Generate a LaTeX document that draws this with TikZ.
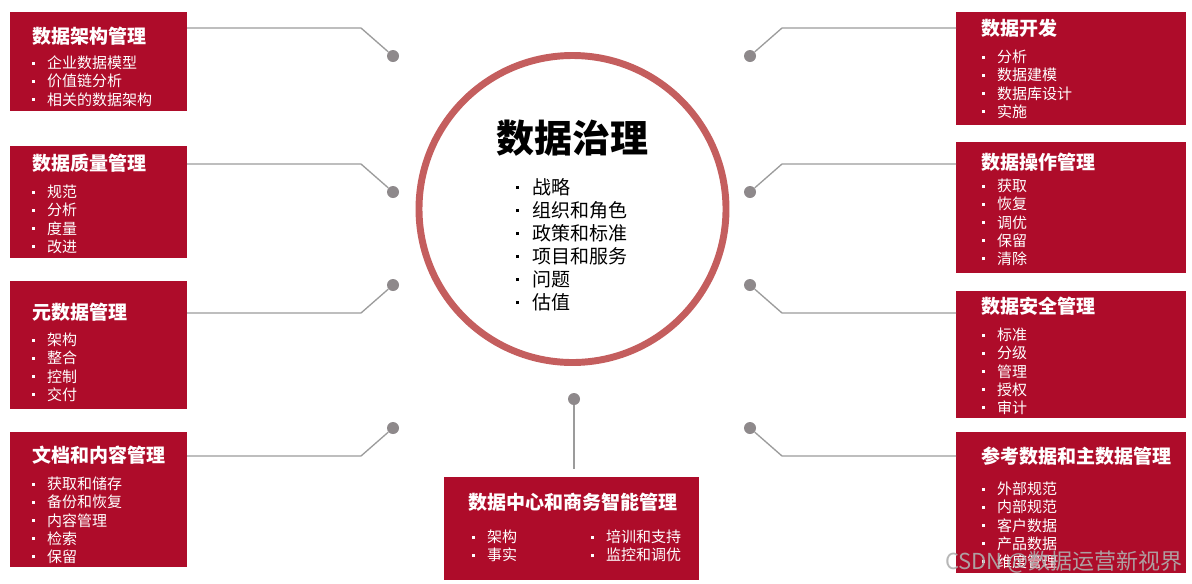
\documentclass[tikz,border=0pt]{standalone}
\usepackage{fontspec}
\setmainfont{Noto Sans CJK SC}
\definecolor{boxred}{RGB}{174,12,42}
\definecolor{ringred}{RGB}{196,94,94}
\definecolor{linkgray}{RGB}{155,155,155}
\definecolor{dotgray}{RGB}{142,137,139}
\definecolor{wmgray}{RGB}{175,175,175}
\newcommand{\bul}[2]{\makebox[#1][l]{\raisebox{#2}{\rule{2.3pt}{2.3pt}}}}
\newcommand{\itm}[1]{\bul{11.6pt}{3.1pt}#1}
\newcommand{\citm}[1]{\bul{12.4pt}{3.9pt}#1}
\newcommand{\redbox}[5]{\node[redbox, minimum width={(#4-#2)*0.75pt}, minimum height={(#5-#3)*0.75pt}] (#1) at (#2,#3) {};}
\begin{document}
\begin{tikzpicture}[x=0.75pt,y=-0.75pt,
  redbox/.style={fill=boxred, draw=none, inner sep=0pt, outer sep=0pt, anchor=north west},
  boxtitle/.style={anchor=base west, inner sep=0pt, text=white, font=\fontsize{14.25pt}{17pt}\selectfont\bfseries},
  boxlist/.style={anchor=base west, inner sep=0pt, text=white, align=left, font=\fontsize{11.25pt}{13.65pt}\selectfont},
  link/.style={draw=linkgray, line width=1pt},
  dotn/.style={circle, fill=dotgray, draw=none, inner sep=0pt, minimum size=9pt}]
\useasboundingbox (0,0) rectangle (1192,583);

% centre ring
\node[circle, draw=ringred, line width=5.2pt, minimum size=230.25pt, inner sep=0pt] (ring) at (572.5,209) {};
\node[anchor=base, inner sep=0pt, font=\fontsize{28.5pt}{32pt}\selectfont\bfseries] (ctitle) at (572,152.4) {数据治理};
\node[anchor=base west, inner sep=0pt, align=left, font=\fontsize{14.25pt}{17.25pt}\selectfont] (clist) at (516,{194.2+5*23})
 {\citm{战略}\\\citm{组织和角色}\\\citm{政策和标准}\\\citm{项目和服务}\\\citm{问题}\\\citm{估值}};

% left boxes
\redbox{b1}{10}{12}{187}{111}
\node[boxtitle] (t1) at (32,43.2) {数据架构管理};
\node[boxlist] (l1) at (31.5,{68.7+2*18.2}) {\itm{企业数据模型}\\\itm{价值链分析}\\\itm{相关的数据架构}};
\coordinate (e1) at (361,28);
\node[dotn] (d1) at (393,56) {};
\draw[link] (e1 -| b1.east) -- (e1) -- (d1);

\redbox{b2}{10}{146}{187}{258}
\node[boxtitle] (t2) at (32,170.2) {数据质量管理};
\node[boxlist] (l2) at (31.5,{197.7+3*18.2}) {\itm{规范}\\\itm{分析}\\\itm{度量}\\\itm{改进}};
\coordinate (e2) at (361,164);
\node[dotn] (d2) at (393,192) {};
\draw[link] (e2 -| b2.east) -- (e2) -- (d2);

\redbox{b3}{10}{281}{187}{409}
\node[boxtitle] (t3) at (32,319.2) {元数据管理};
\node[boxlist] (l3) at (31.5,{345.7+3*18.2}) {\itm{架构}\\\itm{整合}\\\itm{控制}\\\itm{交付}};
\coordinate (e3) at (361,313);
\node[dotn] (d3) at (393,285) {};
\draw[link] (e3 -| b3.east) -- (e3) -- (d3);

\redbox{b4}{10}{432}{187}{567}
\node[boxtitle] (t4) at (32,462.2) {文档和内容管理};
\node[boxlist] (l4) at (31.5,{489.7+4*18.2}) {\itm{获取和储存}\\\itm{备份和恢复}\\\itm{内容管理}\\\itm{检索}\\\itm{保留}};
\coordinate (e4) at (361,456);
\node[dotn] (d4) at (393,428) {};
\draw[link] (e4 -| b4.east) -- (e4) -- (d4);

% right boxes
\redbox{r1}{956}{12}{1186}{125}
\node[boxtitle] (rt1) at (981,35.2) {数据开发};
\node[boxlist] (rl1) at (981.5,{62.7+3*18.2}) {\itm{分析}\\\itm{数据建模}\\\itm{数据库设计}\\\itm{实施}};
\coordinate (f1) at (782,28);
\node[dotn] (g1) at (750,56) {};
\draw[link] (f1 -| r1.west) -- (f1) -- (g1);

\redbox{r2}{956}{142}{1186}{273}
\node[boxtitle] (rt2) at (981,169.2) {数据操作管理};
\node[boxlist] (rl2) at (981.5,{191.7+4*18.2}) {\itm{获取}\\\itm{恢复}\\\itm{调优}\\\itm{保留}\\\itm{清除}};
\coordinate (f2) at (782,164);
\node[dotn] (g2) at (750,192) {};
\draw[link] (f2 -| r2.west) -- (f2) -- (g2);

\redbox{r3}{956}{291}{1186}{418}
\node[boxtitle] (rt3) at (981,313.2) {数据安全管理};
\node[boxlist] (rl3) at (981.5,{340.7+4*18.2}) {\itm{标准}\\\itm{分级}\\\itm{管理}\\\itm{授权}\\\itm{审计}};
\coordinate (f3) at (782,313);
\node[dotn] (g3) at (750,285) {};
\draw[link] (f3 -| r3.west) -- (f3) -- (g3);

\redbox{r4}{956}{432}{1186}{573}
\node[boxtitle] (rt4) at (981,463.2) {参考数据和主数据管理};
\node[boxlist] (rl4) at (981.5,{494.7+4*18.2}) {\itm{外部规范}\\\itm{内部规范}\\\itm{客户数据}\\\itm{产品数据}\\\itm{维度管理}};
\coordinate (f4) at (782,456);
\node[dotn] (g4) at (750,428) {};
\draw[link] (f4 -| r4.west) -- (f4) -- (g4);

% bottom box
\redbox{bb}{444}{477}{699}{580}
\node[boxtitle, anchor=base] (bt) at (573,509.2) {数据中心和商务智能管理};
\node[boxlist] (bl1) at (471.5,{542.7+18.2}) {\itm{架构}\\\itm{事实}};
\node[boxlist] (bl2) at (590.5,{542.7+18.2}) {\itm{培训和支持}\\\itm{监控和调优}};
\node[dotn] (bd) at (574,399) {};
\coordinate (be) at (574,469);
\draw[link] (bd) -- (be);

% watermark
\node[anchor=base west, inner sep=0pt, text=wmgray, opacity=0.9, font=\fontsize{16.5pt}{18pt}\selectfont] (wm) at (945,569) {CSDN @数据运营新视界};
\end{tikzpicture}
\end{document}
